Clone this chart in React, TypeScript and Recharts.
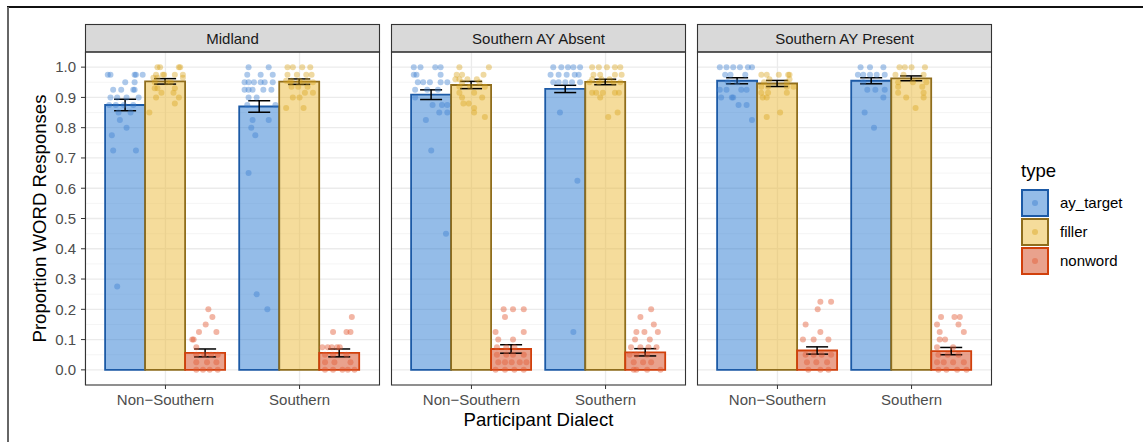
import React from "react";
import {
  ComposedChart,
  Bar,
  Scatter,
  XAxis,
  YAxis,
  CartesianGrid,
  ErrorBar,
} from "recharts";

const dialects = ["Non\u2212Southern", "Southern"];
const types = ["ay_target", "filler", "nonword"];
const facets = ["Midland", "Southern AY Absent", "Southern AY Present"];
const yTicks = [0, 0.1, 0.2, 0.3, 0.4, 0.5, 0.6, 0.7, 0.8, 0.9, 1.0];
const yMinor = [0.05, 0.15, 0.25, 0.35, 0.45, 0.55, 0.65, 0.75, 0.85, 0.95];

// mean proportion per dialect row: [ay_target, filler, nonword]
const midlandMean = [
  [0.875, 0.953, 0.056],
  [0.87, 0.952, 0.056],
];
const midlandSe = [
  [0.019, 0.009, 0.013],
  [0.019, 0.009, 0.013],
];
const absentMean = [
  [0.909, 0.941, 0.069],
  [0.928, 0.951, 0.058],
];
const absentSe = [
  [0.016, 0.012, 0.014],
  [0.012, 0.009, 0.012],
];
const presentMean = [
  [0.955, 0.946, 0.064],
  [0.955, 0.963, 0.062],
];
const presentSe = [
  [0.01, 0.01, 0.012],
  [0.01, 0.008, 0.012],
];

// participant points: [jitter, proportion], one list per dialect
const midlandAyPts = [
  [[-0.13, 0.975], [-0.11, 0.975], [0.07, 0.975], [0.08, 0.975], [0.13, 0.975], [0, 0.95], [0.07, 0.95],
   [-0.09, 0.925], [-0.03, 0.925], [0.06, 0.925], [0.07, 0.925], [-0.11, 0.9], [-0.06, 0.9], [0.01, 0.9],
   [0.1, 0.9], [-0.12, 0.875], [-0.07, 0.875], [-0.01, 0.875], [0.06, 0.875], [-0.05, 0.85], [0.04, 0.85],
   [-0.04, 0.825], [0.01, 0.8], [-0.1, 0.775], [-0.09, 0.725], [0.08, 0.725], [-0.06, 0.275]],
  [[-0.08, 1.0], [0.07, 1.0], [-0.09, 0.975], [0.01, 0.975], [0.1, 0.975], [-0.11, 0.95], [-0.08, 0.95],
   [-0.04, 0.95], [0.01, 0.95], [0.04, 0.95], [0.1, 0.95], [-0.11, 0.925], [-0.08, 0.925], [-0.05, 0.925],
   [0.03, 0.925], [0.09, 0.925], [-0.08, 0.9], [-0.02, 0.9], [-0.09, 0.875], [0.12, 0.875], [-0.05, 0.825],
   [0.07, 0.825], [-0.06, 0.8], [-0.03, 0.775], [-0.08, 0.65], [-0.02, 0.25], [0.06, 0.2]],
];
const midlandFillerPts = [
  [[-0.06, 1.0], [-0.04, 1.0], [0.1, 1.0], [0.11, 1.0], [-0.07, 0.975], [-0.02, 0.975], [-0.01, 0.975],
   [0.07, 0.975], [0.13, 0.975], [-0.09, 0.965], [-0.06, 0.965], [0.13, 0.965], [-0.08, 0.95], [0.01, 0.95],
   [0.04, 0.95], [-0.08, 0.93], [-0.06, 0.93], [0.07, 0.93], [-0.03, 0.915], [0.06, 0.915], [-0.07, 0.9],
   [0.1, 0.9], [0.07, 0.88], [-0.12, 0.85]],
  [[-0.09, 1.0], [-0.05, 1.0], [0.02, 1.0], [0.08, 1.0], [-0.09, 0.975], [-0.02, 0.975], [0.05, 0.975],
   [0.09, 0.975], [-0.1, 0.955], [-0.06, 0.955], [0, 0.955], [0.06, 0.955], [-0.07, 0.95], [0.02, 0.95],
   [0.1, 0.95], [-0.06, 0.935], [-0.01, 0.935], [0.06, 0.935], [0.04, 0.915], [0.1, 0.915], [-0.05, 0.9],
   [0, 0.9], [-0.1, 0.865], [0.03, 0.865]],
];
const midlandNonwordPts = [
  [[0.02, 0.2], [0.05, 0.175], [0, 0.15], [-0.05, 0.125], [0.08, 0.125], [-0.1, 0.1], [-0.09, 0.1],
   [-0.07, 0.075], [-0.07, 0.05], [-0.01, 0.05], [0.04, 0.05], [0.09, 0.05], [-0.07, 0.025], [0.01, 0.025],
   [0.08, 0.025], [-0.07, 0], [-0.02, 0], [0.03, 0], [0.09, 0]],
  [[0.09, 0.175], [-0.05, 0.125], [0.05, 0.125], [0.08, 0.125], [-0.13, 0.075], [-0.09, 0.075],
   [-0.06, 0.075], [-0.02, 0.075], [0, 0.075], [-0.11, 0.05], [-0.05, 0.05], [0.05, 0.05], [-0.11, 0.025],
   [-0.04, 0.025], [0.08, 0.025], [-0.11, 0], [-0.05, 0], [0.02, 0], [0.06, 0], [0.11, 0]],
];
const absentAyPts = [
  [[-0.13, 1.0], [-0.08, 1.0], [0.03, 1.0], [0.07, 1.0], [-0.13, 0.975], [-0.11, 0.975], [0.07, 0.975],
   [-0.1, 0.95], [-0.06, 0.95], [-0.01, 0.95], [0.07, 0.95], [0.12, 0.95], [-0.12, 0.925], [-0.03, 0.925],
   [0.05, 0.925], [-0.12, 0.9], [0.01, 0.875], [0.08, 0.875], [0.12, 0.875], [0.06, 0.85], [0.12, 0.85],
   [-0.04, 0.825], [0, 0.725], [0.11, 0.45]],
  [[-0.09, 1.0], [-0.03, 1.0], [0.02, 1.0], [0.06, 1.0], [0.11, 1.0], [-0.11, 0.975], [-0.05, 0.975],
   [0.01, 0.975], [0.07, 0.975], [0.1, 0.975], [-0.09, 0.95], [-0.05, 0.95], [0, 0.95], [0.05, 0.95],
   [0.11, 0.95], [-0.04, 0.85], [0.09, 0.625], [0.06, 0.125]],
];
const absentFillerPts = [
  [[-0.09, 1.0], [0.13, 1.0], [-0.11, 0.975], [-0.07, 0.975], [0.09, 0.975], [-0.12, 0.96], [-0.09, 0.96],
   [-0.03, 0.96], [0.04, 0.96], [-0.07, 0.95], [0.06, 0.95], [-0.09, 0.935], [-0.01, 0.935], [0.1, 0.935],
   [-0.09, 0.915], [0.02, 0.915], [-0.07, 0.9], [0.08, 0.9], [-0.06, 0.88], [-0.02, 0.88], [0.02, 0.865],
   [0.02, 0.85], [0.1, 0.835]],
  [[-0.1, 1.0], [-0.05, 1.0], [0.01, 1.0], [0.07, 1.0], [0.11, 1.0], [-0.09, 0.975], [-0.04, 0.975],
   [0.07, 0.975], [0.12, 0.975], [-0.1, 0.96], [-0.03, 0.96], [0.03, 0.96], [-0.12, 0.95], [-0.05, 0.95],
   [0.06, 0.95], [0.11, 0.95], [-0.1, 0.915], [-0.07, 0.915], [-0.02, 0.915], [0.07, 0.915], [0.1, 0.915],
   [-0.04, 0.9], [0.09, 0.85], [0.02, 0.835]],
];
const absentNonwordPts = [
  [[-0.06, 0.2], [0.01, 0.2], [0.09, 0.2], [-0.05, 0.175], [-0.12, 0.125], [0.09, 0.125], [-0.1, 0.1],
   [0.01, 0.1], [-0.11, 0.075], [-0.04, 0.075], [0.02, 0.075], [-0.11, 0.05], [-0.04, 0.05], [0.01, 0.05],
   [0.09, 0.05], [-0.1, 0.025], [-0.05, 0.025], [0, 0.025], [0.06, 0.025], [0.11, 0.025], [-0.12, 0],
   [-0.05, 0], [0.02, 0], [0.09, 0]],
  [[0.04, 0.2], [-0.04, 0.175], [0.06, 0.15], [-0.07, 0.125], [-0.01, 0.125], [0.09, 0.125], [-0.08, 0.1],
   [0.03, 0.1], [-0.11, 0.075], [-0.04, 0.075], [0.02, 0.075], [0.08, 0.075], [-0.12, 0.05], [-0.07, 0.05],
   [0.01, 0.05], [-0.09, 0.025], [-0.02, 0.025], [0.04, 0.025], [-0.09, 0], [-0.07, 0], [0.01, 0], [0.11, 0]],
];
const presentAyPts = [
  [[-0.13, 1.0], [-0.08, 1.0], [-0.03, 1.0], [0.02, 1.0], [0.08, 1.0], [0.11, 1.0], [-0.09, 0.975],
   [-0.05, 0.975], [0.06, 0.975], [-0.07, 0.95], [0, 0.95], [-0.13, 0.925], [-0.08, 0.925], [0.03, 0.925],
   [0.07, 0.925], [-0.12, 0.9], [-0.04, 0.9], [-0.03, 0.9], [0.01, 0.875], [0.07, 0.875], [0.11, 0.825]],
  [[-0.08, 1.0], [-0.01, 1.0], [0.09, 1.0], [-0.1, 0.975], [-0.06, 0.975], [-0.01, 0.975], [0.04, 0.975],
   [0.1, 0.975], [-0.06, 0.95], [-0.03, 0.925], [0.03, 0.925], [0.1, 0.925], [0.09, 0.9], [-0.05, 0.85],
   [0.02, 0.8]],
];
const presentFillerPts = [
  [[-0.12, 0.975], [-0.08, 0.975], [0.01, 0.975], [0.08, 0.975], [0.09, 0.975], [-0.06, 0.96], [0.09, 0.96],
   [-0.1, 0.95], [0.07, 0.95], [-0.12, 0.935], [-0.07, 0.935], [0.07, 0.935], [0.12, 0.935], [-0.12, 0.915],
   [-0.07, 0.915], [0.07, 0.915], [-0.11, 0.9], [-0.08, 0.9], [0.02, 0.85], [-0.08, 0.835]],
  [[-0.09, 1.0], [-0.05, 1.0], [0, 1.0], [0.1, 1.0], [-0.12, 0.975], [-0.06, 0.975], [0.09, 0.975],
   [-0.1, 0.95], [0.01, 0.95], [0.11, 0.95], [-0.1, 0.935], [0.08, 0.935], [-0.1, 0.915], [0.09, 0.915],
   [-0.04, 0.9], [0.09, 0.9], [0.03, 0.865]],
];
const presentNonwordPts = [
  [[0.02, 0.225], [0.1, 0.225], [0, 0.2], [-0.09, 0.15], [0.02, 0.125], [-0.11, 0.1], [-0.03, 0.1],
   [0.08, 0.1], [-0.09, 0.05], [-0.03, 0.05], [0.03, 0.05], [0.1, 0.05], [-0.08, 0.025], [-0.01, 0.025],
   [0.07, 0.025], [-0.07, 0], [0.02, 0], [0.08, 0]],
  [[-0.08, 0.175], [0.02, 0.175], [0.06, 0.175], [-0.11, 0.15], [0.05, 0.15], [-0.09, 0.125], [0.09, 0.125],
   [-0.09, 0.1], [-0.05, 0.1], [-0.11, 0.075], [0.01, 0.075], [-0.1, 0.05], [-0.03, 0.05], [0.05, 0.05],
   [-0.11, 0.025], [-0.06, 0.025], [0.01, 0.025], [0.09, 0.025], [-0.1, 0], [-0.04, 0], [0.04, 0], [0.11, 0]],
];

const fills = ["#2a7ad2", "#ecba38", "#d4451c"];
const borders = ["#1c5aa6", "#8f6d1c", "#d1400c"];
const dots = ["#3b7fcf", "#d9a520", "#e35a35"];
const dotAlpha = [0.42, 0.42, 0.45];

const FONT = "'Liberation Sans', Arial, Helvetica, sans-serif";
const PLOT_H = 333;
const AXIS_H = 30;

const FacetPanel = ({
  mean,
  se,
  pts,
  showY,
}: {
  mean: number[][];
  se: number[][];
  pts: number[][][][];
  showY: boolean;
}) => {
  const rows = dialects.map((d, i) => {
    const row: any = { dialect: d };
    types.forEach((t, k) => {
      row[t] = mean[i][k];
      row[t + "_se"] = se[i][k];
    });
    return row;
  });

  // dodge: the three types sit at -0.3, 0, +0.3 around each dialect
  const scatterData = types.map((_, k) =>
    pts[k].flatMap((group, d) =>
      group.map(([dx, y]) => ({ x: d + 1 + (k - 1) * 0.3 + dx, y }))
    )
  );

  return (
    <ComposedChart
      width={showY ? 380 : 295}
      height={PLOT_H + AXIS_H}
      data={rows}
      margin={{ top: 0, right: 0, bottom: 0, left: 0 }}
      barCategoryGap="5%"
      barGap={0}
    >
      <CartesianGrid
        xAxisId="cat"
        vertical={false}
        horizontalValues={yMinor}
        stroke="#f2f2f2"
        strokeWidth={0.8}
      />
      <CartesianGrid
        xAxisId="cat"
        horizontalValues={yTicks}
        stroke="#ebebeb"
        strokeWidth={1.3}
      />
      <XAxis
        xAxisId="cat"
        dataKey="dialect"
        padding={{ left: 13.4, right: 13.4 }}
        height={AXIS_H}
        interval={0}
        axisLine={false}
        tickSize={4}
        tickMargin={5}
        tickLine={{ stroke: "#333333" }}
        tick={{ fill: "#4d4d4d", fontSize: 15 }}
      />
      <XAxis
        xAxisId="num"
        type="number"
        dataKey="x"
        domain={[0.4, 2.6]}
        allowDataOverflow
        hide
      />
      <YAxis
        type="number"
        domain={[-0.05, 1.05]}
        ticks={yTicks}
        allowDataOverflow
        hide={!showY}
        width={85}
        axisLine={false}
        tickSize={4}
        tickMargin={5}
        tickLine={{ stroke: "#333333" }}
        tick={{ fill: "#4d4d4d", fontSize: 15 }}
        tickFormatter={(v: number) => v.toFixed(1)}
      />
      {types.map((t, k) => (
        <Bar
          key={t}
          xAxisId="cat"
          dataKey={t}
          fill={fills[k]}
          fillOpacity={0.5}
          stroke={borders[k]}
          strokeWidth={1.8}
          isAnimationActive={false}
        >
          <ErrorBar
            dataKey={t + "_se"}
            direction="y"
            width={11}
            stroke="#000000"
            strokeWidth={1.5}
          />
        </Bar>
      ))}
      {types.map((t, k) => (
        <Scatter
          key={t + "_pts"}
          xAxisId="num"
          data={scatterData[k]}
          dataKey="y"
          isAnimationActive={false}
          shape={(p: any) => (
            <circle cx={p.cx} cy={p.cy} r={3} fill={dots[k]} fillOpacity={dotAlpha[k]} />
          )}
        />
      ))}
    </ComposedChart>
  );
};

const panels = [
  { left: 0, plotX: 85, mean: midlandMean, se: midlandSe, pts: [midlandAyPts, midlandFillerPts, midlandNonwordPts] },
  { left: 391, plotX: 391, mean: absentMean, se: absentSe, pts: [absentAyPts, absentFillerPts, absentNonwordPts] },
  { left: 697, plotX: 697, mean: presentMean, se: presentSe, pts: [presentAyPts, presentFillerPts, presentNonwordPts] },
];

export default function App() {
  return (
    <div
      style={{
        position: "absolute",
        left: 0,
        top: 0,
        width: 1143,
        height: 442,
        background: "#ffffff",
        fontFamily: FONT,
        overflow: "hidden",
      }}
    >
      {panels.map((p, i) => (
        <div key={i} style={{ position: "absolute", left: p.left, top: 52 }}>
          <FacetPanel mean={p.mean} se={p.se} pts={p.pts} showY={i === 0} />
        </div>
      ))}
      <svg
        width={1143}
        height={442}
        style={{ position: "absolute", left: 0, top: 0, pointerEvents: "none" }}
        fontFamily={FONT}
      >
        <line x1={7} y1={7} x2={1143} y2={7} stroke="#111111" strokeWidth={2} />
        <line x1={8} y1={7} x2={8} y2={442} stroke="#666666" strokeWidth={2} />
        {panels.map((p, i) => (
          <g key={i}>
            <rect x={p.plotX + 0.5} y={24.5} width={294} height={27.5} fill="#d9d9d9" stroke="#333333" strokeWidth={1.1} />
            <text x={p.plotX + 147.5} y={43.5} textAnchor="middle" fontSize={15} fill="#1a1a1a">
              {facets[i]}
            </text>
            <rect x={p.plotX + 0.5} y={52} width={294} height={PLOT_H} fill="none" stroke="#333333" strokeWidth={1.1} />
          </g>
        ))}
        <text transform="translate(45.5,218.5) rotate(-90)" textAnchor="middle" fontSize={18.6} fill="#000">
          Proportion WORD Responses
        </text>
        <text x={538.5} y={426} textAnchor="middle" fontSize={18.6} fill="#000">
          Participant Dialect
        </text>
        <text x={1021} y={177} fontSize={18.6} fill="#000">
          type
        </text>
        {types.map((t, k) => (
          <g key={t}>
            <rect x={1022} y={190 + k * 29} width={26} height={26} fill={fills[k]} fillOpacity={0.5} stroke={borders[k]} strokeWidth={2} />
            <circle cx={1035} cy={203 + k * 29} r={3} fill={dots[k]} fillOpacity={0.45} />
            <text x={1060} y={208 + k * 29} fontSize={15} fill="#000">
              {t}
            </text>
          </g>
        ))}
      </svg>
    </div>
  );
}
